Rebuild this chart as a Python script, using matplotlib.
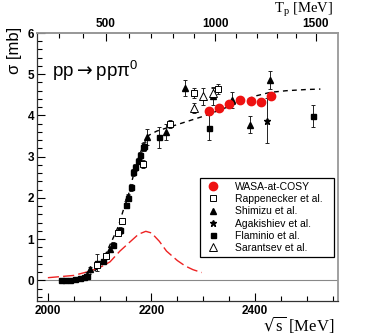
import numpy as np
import matplotlib
matplotlib.use("Agg")
import matplotlib.pyplot as plt
from matplotlib.lines import Line2D

# ---------------- data ----------------
wasa_x = [2311, 2330, 2350, 2371, 2392, 2412, 2431]
wasa_y = [4.12, 4.18, 4.28, 4.38, 4.36, 4.33, 4.47]

rapp_x = [2094, 2112, 2136, 2144, 2183, 2236, 2283, 2329]
rapp_y = [0.37, 0.60, 1.15, 1.44, 2.83, 3.80, 4.54, 4.64]
rapp_e = [0.05, 0.06, 0.06, 0.07, 0.10, 0.10, 0.12, 0.12]

shim_x = [2081, 2120, 2154, 2191, 2228, 2265, 2319, 2355, 2390, 2428]
shim_y = [0.28, 0.75, 2.02, 3.48, 3.60, 4.66, 4.46, 4.38, 3.78, 4.87]
shim_e = [0.05, 0.06, 0.08, 0.20, 0.20, 0.20, 0.20, 0.20, 0.20, 0.22]

agak_x = [2075, 2422]
agak_y = [0.12, 3.87]
agak_e = [0.08, 0.55]

flam_x = [2026, 2033, 2043, 2052, 2062, 2070, 2075, 2094, 2106, 2126, 2139,
          2151, 2155, 2160, 2165, 2169, 2173, 2178, 2183, 2185, 2214, 2311, 2511]
flam_y = [0.00, 0.01, 0.02, 0.04, 0.06, 0.08, 0.10, 0.43, 0.47, 0.86, 1.21,
          1.84, 2.00, 2.26, 2.62, 2.74, 2.90, 3.03, 3.23, 3.25, 3.47, 3.70, 3.98]
flam_e = [0.02, 0.02, 0.02, 0.02, 0.03, 0.03, 0.04, 0.20, 0.06, 0.08, 0.08,
          0.08, 0.08, 0.08, 0.08, 0.08, 0.08, 0.08, 0.10, 0.10, 0.25, 0.30, 0.27]

sar_x = [2282, 2299, 2319]
sar_y = [4.18, 4.46, 4.55]
sar_e = [0.12, 0.20, 0.15]

fit_x = [2060, 2080, 2094, 2110, 2125, 2136, 2145, 2155, 2162, 2174, 2185, 2195,
         2210, 2250, 2300, 2350, 2371, 2400, 2429, 2460, 2500, 2526]
fit_y = [0.02, 0.12, 0.27, 0.60, 1.00, 1.31, 1.68, 2.05, 2.40, 2.95, 3.30, 3.52,
         3.62, 3.78, 3.98, 4.22, 4.32, 4.47, 4.56, 4.60, 4.63, 4.64]

res_x = [2000, 2050, 2080, 2100, 2120, 2139, 2160, 2175, 2189, 2200, 2215, 2229,
         2250, 2265, 2280, 2297]
res_y = [0.065, 0.12, 0.22, 0.31, 0.45, 0.71, 0.95, 1.12, 1.19, 1.15, 0.95, 0.71,
         0.48, 0.35, 0.26, 0.19]

legend_labels = ["WASA-at-COSY", "Rappenecker et al.", "Shimizu et al.",
                 "Agakishiev et al.", "Flaminio et al.", "Sarantsev et al."]

# ---------------- figure ----------------
fig = plt.figure(figsize=(3.74, 3.36), dpi=100)
ax = fig.add_axes([37/374, 35/336, 301/374, 268/336])

ax.set_xlim(1979, 2560)
ax.set_ylim(-0.5, 6)

ax.axhline(0, color="#888888", lw=0.8, zorder=1)

ax.plot(res_x, res_y, color="#ee2222", lw=1.0, dashes=(8, 3), zorder=2)
ax.plot(fit_x, fit_y, color="black", lw=1.0, dashes=(3.5, 3), zorder=2)

eb = dict(ecolor="#222222", elinewidth=0.7, capsize=1.5, capthick=0.7, ls="none", zorder=3)
ax.errorbar(flam_x, flam_y, yerr=flam_e, marker="s", ms=3.6, mfc="black", mec="black", **eb)
ax.errorbar(rapp_x, rapp_y, yerr=rapp_e, marker="s", ms=4.2, mfc="white", mec="black", mew=0.7, **eb)
ax.errorbar(shim_x, shim_y, yerr=shim_e, marker="^", ms=4.2, mfc="black", mec="black", **eb)
ax.errorbar(agak_x, agak_y, yerr=agak_e, marker="*", ms=5, mfc="black", mec="black", **eb)
ax.errorbar(sar_x, sar_y, yerr=sar_e, marker="^", ms=6, mfc="white", mec="black", mew=0.7, **eb)
ax.plot(wasa_x, wasa_y, "o", color="#ee1111", ms=6, ls="none", zorder=4)

# ticks
ax.set_xticks([2000, 2200, 2400])
ax.set_xticks(np.arange(2050, 2560, 50), minor=True)
ax.set_yticks([0, 1, 2, 3, 4, 5, 6])
ax.set_yticks(np.arange(-0.4, 6.0, 0.2), minor=True)
ax.tick_params(direction="in", which="major", length=6, width=0.8, labelsize=8.5,
               top=False, right=False)
ax.tick_params(direction="in", which="minor", length=3.5, width=0.8, top=False, right=False)
for lab in ax.get_xticklabels() + ax.get_yticklabels():
    lab.set_fontweight("bold")
    lab.set_fontfamily("Liberation Sans")
ax.tick_params(axis="x", pad=3)
ax.tick_params(axis="y", pad=2)

for s in ["left", "bottom"]:
    ax.spines[s].set_color("#333333")
    ax.spines[s].set_linewidth(0.9)
for s in ["top", "right"]:
    ax.spines[s].set_color("#999999")
    ax.spines[s].set_linewidth(1.3)

mp = 938.27
def s_to_T(s):
    s = np.asarray(s, dtype=float)
    return s**2 / (2*mp) - 2*mp
def T_to_s(T):
    T = np.asarray(T, dtype=float)
    return np.sqrt(np.clip(2*mp*(T + 2*mp), 0, None))

sec = ax.secondary_xaxis("top", functions=(s_to_T, T_to_s))
sec.set_xticks([500, 1000, 1500])
sec.set_xticks([300, 400, 600, 700, 800, 900, 1100, 1200, 1300, 1400], minor=True)
sec.tick_params(direction="in", which="major", length=6, width=0.8, labelsize=8.5, pad=2)
sec.tick_params(direction="in", which="minor", length=3.5, width=0.8)
for lab in sec.get_xticklabels():
    lab.set_fontweight("bold")
    lab.set_fontfamily("Liberation Sans")
sec.spines["top"].set_color("#999999")
sec.spines["top"].set_linewidth(1.3)

# texts
ax.text(0.05, 0.835, r"pp$\rightarrow$pp$\mathregular{\pi^0}$", transform=ax.transAxes,
        fontsize=13.5, family="Liberation Sans", va="baseline")
fig.text(15/374, 1 - 50/336, "σ [mb]", rotation=90, ha="center", va="center",
         fontsize=12, family="Liberation Sans")
fig.text(333/374, 1.0, r"T$_\mathregular{p}$ [MeV]", ha="right", va="top",
         fontsize=10.5, family="Liberation Serif")
fig.text(334/374, 1 - 335/336, r"$\sqrt{\mathregular{s}}$ [MeV]", ha="right", va="bottom",
         fontsize=12, family="Liberation Serif")

# legend
handles = [
    Line2D([], [], marker="o", color="#ee1111", ls="none", ms=6),
    Line2D([], [], marker="s", mfc="white", mec="black", mew=0.7, ls="none", ms=4),
    Line2D([], [], marker="^", color="black", ls="none", ms=4),
    Line2D([], [], marker="*", color="black", ls="none", ms=5),
    Line2D([], [], marker="s", color="black", ls="none", ms=3.6),
    Line2D([], [], marker="^", mfc="white", mec="black", mew=0.7, ls="none", ms=6),
]
leg = ax.legend(handles, legend_labels, loc="upper left",
                bbox_to_anchor=((200-37)/301, (301-178)/268 - 0.291, 0.446, 0.291),
                mode="expand", prop={"family": "Liberation Sans", "size": 7.5},
                frameon=True, fancybox=False, edgecolor="black", framealpha=1,
                borderpad=0.35, labelspacing=0.22, handletextpad=1.2, handlelength=1.8,
                borderaxespad=0)
leg.get_frame().set_linewidth(0.9)

fig.savefig("out.png", dpi=100)
